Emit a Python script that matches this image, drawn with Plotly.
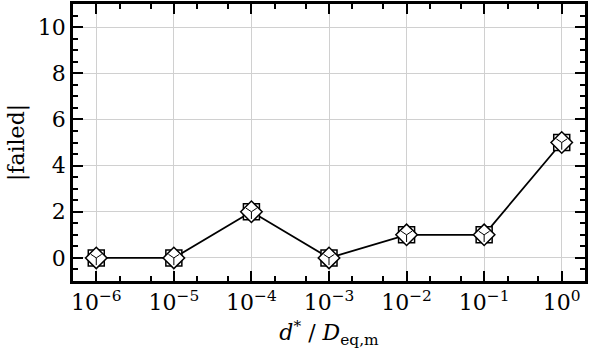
import plotly.graph_objects as go

# Data
d_ratio = [1e-6, 1e-5, 1e-4, 1e-3, 1e-2, 1e-1, 1e0]
failed = [0, 0, 2, 0, 1, 1, 5]
x_tickvals = [1e-6, 1e-5, 1e-4, 1e-3, 1e-2, 1e-1, 1e0]
x_ticktext = ["10<sup>−6</sup>", "10<sup>−5</sup>", "10<sup>−4</sup>", "10<sup>−3</sup>",
              "10<sup>−2</sup>", "10<sup>−1</sup>", "10<sup>0</sup>"]
y_tickvals = [0, 2, 4, 6, 8, 10]

FONT = "DejaVu Serif, Liberation Serif, serif"

fig = go.Figure()
fig.add_trace(go.Scatter(x=d_ratio, y=failed, mode="lines",
                         line=dict(color="black", width=1.8), showlegend=False, hoverinfo="skip"))
fig.add_trace(go.Scatter(x=d_ratio, y=failed, mode="markers",
                         marker=dict(symbol="square", size=16, color="white",
                                     line=dict(color="black", width=1.5)),
                         showlegend=False))
fig.add_trace(go.Scatter(x=d_ratio, y=failed, mode="markers",
                         marker=dict(symbol="diamond", size=16.5, color="white",
                                     line=dict(color="black", width=1.5)),
                         showlegend=False))
fig.add_trace(go.Scatter(x=d_ratio, y=failed, mode="markers",
                         marker=dict(symbol="y-down-open", size=9, color="black",
                                     line=dict(color="black", width=1)),
                         showlegend=False))

fig.update_layout(
    width=589, height=353,
    margin=dict(l=73, r=1, t=2, b=72),
    paper_bgcolor="white", plot_bgcolor="white",
    font=dict(family=FONT, size=22, color="black"),
)
fig.update_xaxes(
    type="log", range=[-6.3, 0.3],
    tickvals=x_tickvals, ticktext=x_ticktext,
    ticks="inside", ticklen=10, tickwidth=2, tickcolor="black",
    showline=True, linecolor="black", linewidth=2.5, mirror="ticks",
    showgrid=True, gridcolor="#d0d0d0", gridwidth=1,
    minor=dict(ticks="inside", ticklen=5, tickwidth=1.5, tickcolor="black", showgrid=False),
    zeroline=False,
    title=dict(text="<i>d</i><sup>*</sup> / <i>D</i><sub>eq,m</sub>", standoff=11,
               font=dict(family=FONT, size=22)),
    tickfont=dict(family=FONT, size=22),
)
fig.update_yaxes(
    range=[-1, 11],
    tickvals=y_tickvals,
    ticks="inside", ticklen=10, tickwidth=2, tickcolor="black",
    showline=True, linecolor="black", linewidth=2.5, mirror="ticks",
    showgrid=True, gridcolor="#d0d0d0", gridwidth=1,
    minor=dict(dtick=0.5, ticks="inside", ticklen=5, tickwidth=1.5, tickcolor="black", showgrid=False),
    zeroline=False,
    title=dict(text="|failed|", standoff=8, font=dict(family=FONT, size=22)),
    tickfont=dict(family=FONT, size=22),
)

fig.write_html("out.html")
